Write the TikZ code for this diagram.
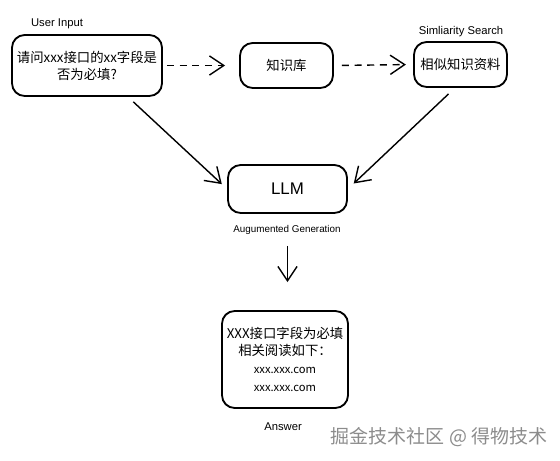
\documentclass[tikz,border=0pt]{standalone}
\usepackage{fontspec}
\setmainfont{Liberation Sans}
\newfontfamily\cjk{Noto Sans CJK SC}
\usetikzlibrary{arrows.meta}
\tikzset{
    sketchbox/.style={draw=black, line width=1.3pt, rounded corners=9pt, align=center, font=\cjk\fontsize{9.5}{12}\selectfont, inner sep=2pt},
    caption/.style={font=\footnotesize},
    flow/.style={line width=1pt, -{Straight Barb[length=3.6mm, width=4.8mm, line width=1pt]}},
    dashflow/.style={flow, dash pattern=on 5pt off 4pt},
}
\begin{document}
\begin{tikzpicture}
        \useasboundingbox (0,0) rectangle (14,-11.525);
        \node[sketchbox, minimum width=3.75cm, minimum height=1.525cm] at (2.175,-1.6375) (user) {请问xxx接口的xx字段是\\否为必填?};
        \node[sketchbox, minimum width=2.325cm, minimum height=1.125cm] at (7.1625,-1.6375) (kb) {知识库};
        \node[sketchbox, minimum width=2.325cm, minimum height=1.125cm] at (11.5125,-1.6125) (sim) {相似知识资料};
        \node[sketchbox, minimum width=2.975cm, minimum height=1.2cm, font=\large] at (7.1875,-4.725) (llm) {LLM};
        \node[sketchbox, minimum width=3.15cm, minimum height=2.425cm] at (7.125,-8.9875) (answer) {XXX接口字段为必填\\相关阅读如下：\\[1pt] {\footnotesize xxx.xxx.com}\\[1pt] {\footnotesize xxx.xxx.com}};

        \node[caption] at (1.425,-0.6) (userlabel) {User Input};
        \node[caption] at (11.525,-0.8) (simlabel) {Simliarity Search};
        \node[caption, font=\scriptsize] at (7.175,-5.75) (genlabel) {Augumented Generation};
        \node[caption] at (7.075,-10.675) (answerlabel) {Answer};

        \draw[dashflow, shorten <=0.1cm, shorten >=0.35cm] (user.east) -- (kb.west);
        \draw[dashflow, shorten <=0.2cm, shorten >=0.18cm] (kb.east) -- (sim.west);
        \draw[flow, shorten <=0.18cm, shorten >=0.18cm] ([xshift=1.025cm]user.south) -- (llm.west);
        \draw[flow, shorten <=0.22cm, shorten >=0.2cm] ([xshift=-0.14cm]sim.south) -- (llm.east);
        \draw[flow, shorten <=0.8cm, shorten >=0.7cm] (llm.south) -- (llm.south|-answer.north);

        \node[font=\cjk\fontsize{13.5}{16}\selectfont, text=black!45] at (10.975,-10.925) (mark) {掘金技术社区 @ 得物技术};
\end{tikzpicture}
\end{document}
